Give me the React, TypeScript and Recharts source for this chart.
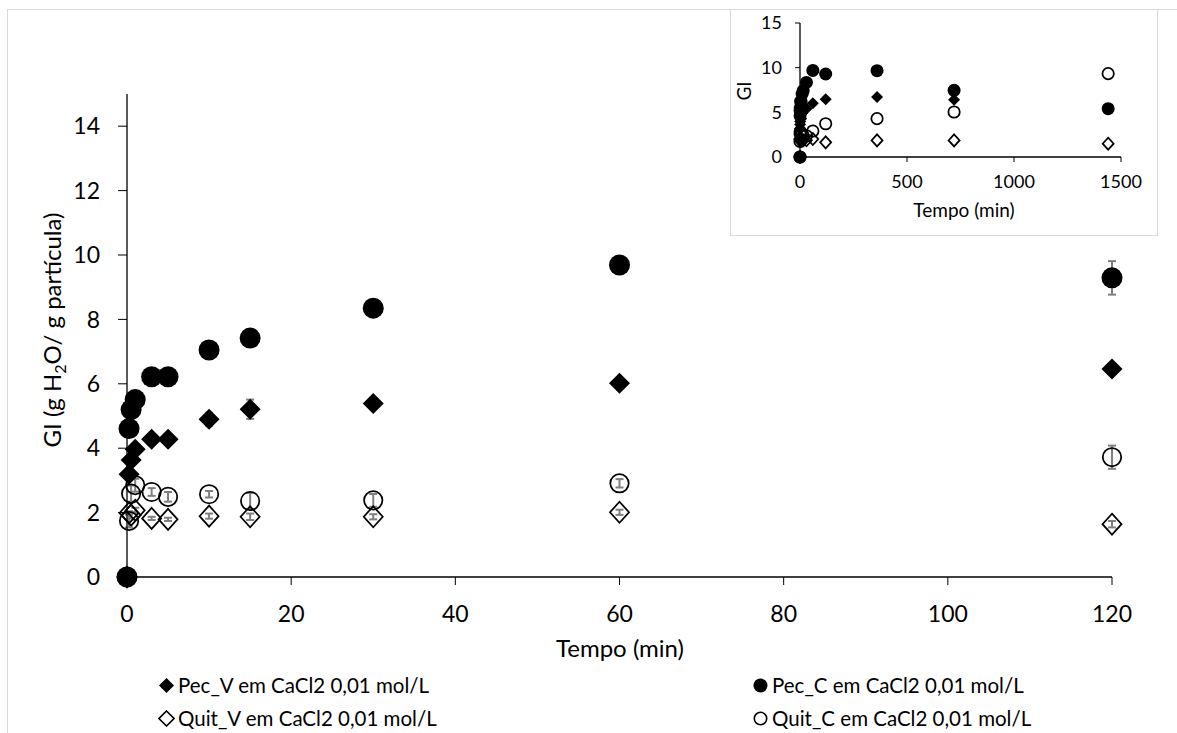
import React from "react";
import { ScatterChart, Scatter, XAxis, YAxis, ErrorBar } from "recharts";

// tempo (min) e GI (g H2O / g partícula)
const tempo = [0, 0.25, 0.5, 1, 3, 5, 10, 15, 30, 60, 120];
const pecV = [0, 3.19, 3.63, 3.97, 4.28, 4.28, 4.9, 5.21, 5.39, 6.02, 6.46];
const pecC = [0, 4.61, 5.2, 5.51, 6.22, 6.22, 7.05, 7.42, 8.35, 9.69, 9.29];
const quitV = [0, 1.99, 1.92, 2.07, 1.82, 1.79, 1.89, 1.87, 1.87, 2.01, 1.64];
const quitC = [0, 1.74, 2.59, 2.85, 2.64, 2.49, 2.57, 2.36, 2.38, 2.91, 3.72];

// desvios
const errPecV = [0, 0.1, 0.1, 0.1, 0.1, 0.1, 0.2, 0.3, 0.1, 0.1, 0.1];
const errPecC = [0, 0.1, 0.1, 0.1, 0.1, 0.1, 0.1, 0.1, 0.1, 0.1, 0.52];
const errQuitV = [0, 0.05, 0.1, 0.08, 0.05, 0.05, 0.08, 0.1, 0.08, 0.08, 0.1];
const errQuitC = [0, 0.2, 0.25, 0.2, 0.12, 0.15, 0.1, 0.25, 0.2, 0.13, 0.36];

// pontos longos (só no gráfico menor)
const tempoLongo = [360, 720, 1440];
const pecVLongo = [6.72, 6.42, null];
const pecCLongo = [9.66, 7.46, 5.41];
const quitVLongo = [1.86, 1.86, 1.49];
const quitCLongo = [4.29, 5.04, 9.33];

const xTicks = [0, 20, 40, 60, 80, 100, 120];
const yTicks = [0, 2, 4, 6, 8, 10, 12, 14];
const xTicksInset = [0, 500, 1000, 1500];
const yTicksInset = [0, 5, 10, 15];

const FONT = "Lato, 'Open Sans', sans-serif";

const toPoints = (xs: number[], ys: (number | null)[], errs?: number[]) =>
  xs
    .map((x, i) => ({ x, y: ys[i], err: errs ? errs[i] : 0 }))
    .filter((p) => p.y !== null);

const mark = (kind: "circle" | "diamond", filled: boolean, r: number, ry?: number) =>
  (props: any) => {
    const { cx, cy } = props;
    if (cx == null || cy == null) return <g />;
    const fill = filled ? "#000" : "none";
    if (kind === "circle") {
      return <circle cx={cx} cy={cy} r={r} fill={fill} stroke="#000" strokeWidth={filled ? 0 : 1.75} />;
    }
    const h = ry ?? r;
    return (
      <path
        d={`M${cx},${cy - h}L${cx + r},${cy}L${cx},${cy + h}L${cx - r},${cy}Z`}
        fill={fill}
        stroke="#000"
        strokeWidth={filled ? 0 : 1.75}
      />
    );
  };

const LegendItem = ({ kind, filled, label }: { kind: "circle" | "diamond"; filled: boolean; label: string }) => (
  <div style={{ display: "flex", alignItems: "center", height: 26 }}>
    <svg width={17} height={17} style={{ marginRight: 3 }}>
      {kind === "circle" ? (
        <circle cx={8.5} cy={8.5} r={filled ? 7 : 6.2} fill={filled ? "#000" : "none"} stroke="#000" strokeWidth={filled ? 0 : 1.6} />
      ) : (
        <path d="M8.5,1L16,8.5L8.5,16L1,8.5Z" fill={filled ? "#000" : "none"} stroke="#000" strokeWidth={filled ? 0 : 1.6} />
      )}
    </svg>
    <span>{label}</span>
  </div>
);

export default function App() {
  const axisLine = { stroke: "#000", strokeWidth: 1.3 };
  return (
    <div style={{ position: "absolute", left: 0, top: 0, width: 1177, height: 733, overflow: "hidden", background: "#fff", fontFamily: FONT }}>
      <div style={{ position: "absolute", left: 7, top: 9, width: 1200, height: 760, borderLeft: "1px solid #d9d9d9", borderTop: "1px solid #d9d9d9" }} />

      <div style={{ position: "absolute", left: 0, top: 0 }}>
        <ScatterChart width={1177} height={733} margin={{ top: 94, right: 65, left: 0, bottom: 0 }}>
          <XAxis
            type="number"
            dataKey="x"
            domain={[0, 120]}
            ticks={xTicks}
            height={156}
            axisLine={axisLine}
            tickLine={{ stroke: "#000" }}
            tickSize={8}
            tickMargin={21}
            tick={{ fill: "#000", fontSize: 23, fontFamily: FONT }}
          />
          <YAxis
            type="number"
            dataKey="y"
            domain={[0, 15]}
            ticks={yTicks}
            width={127}
            axisLine={axisLine}
            tickLine={{ stroke: "#000" }}
            tickSize={9}
            tickMargin={18}
            tick={{ fill: "#000", fontSize: 23, fontFamily: FONT }}
          />
          <Scatter data={toPoints(tempo, pecV, errPecV)} shape={mark("diamond", true, 10.5)} isAnimationActive={false}>
            <ErrorBar dataKey="err" direction="y" width={4} stroke="#7f7f7f" strokeWidth={2} />
          </Scatter>
          <Scatter data={toPoints(tempo, pecC, errPecC)} shape={mark("circle", true, 10.5)} isAnimationActive={false}>
            <ErrorBar dataKey="err" direction="y" width={4} stroke="#7f7f7f" strokeWidth={2} />
          </Scatter>
          <Scatter data={toPoints(tempo, quitV, errQuitV)} shape={mark("diamond", false, 9.5, 10.5)} isAnimationActive={false}>
            <ErrorBar dataKey="err" direction="y" width={4} stroke="#7f7f7f" strokeWidth={2} />
          </Scatter>
          <Scatter data={toPoints(tempo, quitC, errQuitC)} shape={mark("circle", false, 9.2)} isAnimationActive={false}>
            <ErrorBar dataKey="err" direction="y" width={4} stroke="#7f7f7f" strokeWidth={2} />
          </Scatter>
        </ScatterChart>
      </div>

      {/* título eixo y */}
      <div
        style={{
          position: "absolute",
          left: 52 - 200,
          top: 330 - 15,
          width: 400,
          height: 30,
          lineHeight: "30px",
          textAlign: "center",
          fontSize: 24,
          color: "#000",
          transform: "rotate(-90deg)",
          whiteSpace: "nowrap",
        }}
      >
        GI (g H<sub style={{ fontSize: 16, verticalAlign: "-5px", lineHeight: 0 }}>2</sub>O/ g partícula)
      </div>
      {/* título eixo x */}
      <div style={{ position: "absolute", left: 420, top: 633, width: 400, textAlign: "center", fontSize: 24, lineHeight: "30px", color: "#000" }}>
        Tempo (min)
      </div>

      {/* legenda */}
      <div style={{ position: "absolute", left: 158, top: 672, fontSize: 20.5, color: "#000" }}>
        <LegendItem kind="diamond" filled label="Pec_V em CaCl2 0,01 mol/L" />
        <div style={{ height: 7 }} />
        <LegendItem kind="diamond" filled={false} label="Quit_V em CaCl2 0,01 mol/L" />
      </div>
      <div style={{ position: "absolute", left: 752, top: 672, fontSize: 20.5, color: "#000" }}>
        <LegendItem kind="circle" filled label="Pec_C em CaCl2 0,01 mol/L" />
        <div style={{ height: 7 }} />
        <LegendItem kind="circle" filled={false} label="Quit_C em CaCl2 0,01 mol/L" />
      </div>

      {/* gráfico menor */}
      <div style={{ position: "absolute", left: 730, top: 9, width: 428, height: 227, background: "#fff", border: "1px solid #d9d9d9", boxSizing: "border-box" }}>
        <div style={{ position: "absolute", left: -1, top: -1 }}>
          <ScatterChart width={428} height={227} margin={{ top: 14, right: 37, left: 0, bottom: 0 }}>
            <XAxis
              type="number"
              dataKey="x"
              domain={[0, 1500]}
              ticks={xTicksInset}
              height={79}
              axisLine={axisLine}
              tickLine={{ stroke: "#000" }}
              tickSize={5}
              tickMargin={13}
              tick={{ fill: "#000", fontSize: 18, fontFamily: FONT }}
            />
            <YAxis
              type="number"
              dataKey="y"
              domain={[0, 15]}
              ticks={yTicksInset}
              width={70}
              axisLine={axisLine}
              tickLine={{ stroke: "#000" }}
              tickSize={5}
              tickMargin={13}
              tick={{ fill: "#000", fontSize: 18, fontFamily: FONT }}
            />
            <Scatter data={[...toPoints(tempo, pecV), ...toPoints(tempoLongo, pecVLongo)]} shape={mark("diamond", true, 6)} isAnimationActive={false} />
            <Scatter data={[...toPoints(tempo, pecC), ...toPoints(tempoLongo, pecCLongo)]} shape={mark("circle", true, 6.5)} isAnimationActive={false} />
            <Scatter data={[...toPoints(tempo, quitV), ...toPoints(tempoLongo, quitVLongo)]} shape={mark("diamond", false, 5.5, 6)} isAnimationActive={false} />
            <Scatter data={[...toPoints(tempo, quitC), ...toPoints(tempoLongo, quitCLongo)]} shape={mark("circle", false, 5.7)} isAnimationActive={false} />
          </ScatterChart>
        </div>
        <div
          style={{
            position: "absolute",
            left: 13 - 30,
            top: 81 - 12,
            width: 60,
            height: 24,
            lineHeight: "24px",
            textAlign: "center",
            fontSize: 19,
            color: "#000",
            transform: "rotate(-90deg)",
          }}
        >
          GI
        </div>
        <div style={{ position: "absolute", left: 133, top: 188, width: 200, textAlign: "center", fontSize: 19, lineHeight: "24px", color: "#000" }}>
          Tempo (min)
        </div>
      </div>
    </div>
  );
}
